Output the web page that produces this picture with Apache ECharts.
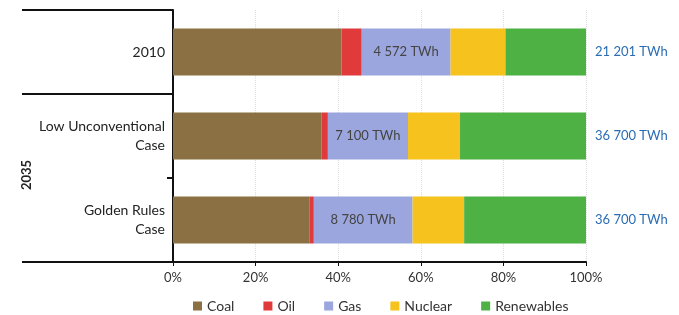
<!DOCTYPE html>
<html><head><meta charset="utf-8">
<script src="https://cdn.jsdelivr.net/npm/echarts@6/dist/echarts.min.js"></script>
<style>html,body{margin:0;padding:0;background:#fff}#c{width:679px;height:315px}</style>
</head><body><div id="c"></div>
<script>
var categories = ['2010', 'Low Unconventional\nCase', 'Golden Rules\nCase'];
var coal = [40.8, 36.0, 33.0];
var oil = [4.9, 1.5, 1.1];
var gas = [21.5, 19.4, 23.9];
var nuclear = [13.3, 12.6, 12.5];
var renewables = [19.5, 30.5, 29.5];
var gasLabels = ['4 572 TWh', '7 100 TWh', '8 780 TWh'];
var totalLabels = ['21 201 TWh', '36 700 TWh', '36 700 TWh'];
var xTicks = [0, 20, 40, 60, 80, 100];

var FONT = 'Lato';
var chart = echarts.init(document.getElementById('c'));
function s(name, data, color, label) {
  return { name: name, type: 'bar', stack: 'all', data: data, barWidth: 47,
    itemStyle: { color: color }, label: label || { show: false } };
}
chart.setOption({
  animation: false,
  textStyle: { fontFamily: FONT },
  grid: { left: 173, right: 93, top: 10, bottom: 53 },
  legend: {
    top: 294, left: 188, itemWidth: 9, itemHeight: 9, itemGap: 29, icon: 'rect',
    textStyle: { fontFamily: FONT, fontSize: 14, color: '#333' },
    data: ['Coal', 'Oil', 'Gas', 'Nuclear', 'Renewables']
  },
  xAxis: {
    type: 'value', min: xTicks[0], max: xTicks[xTicks.length - 1], interval: 20,
    axisLine: { show: true, lineStyle: { color: '#111', width: 2 } },
    axisTick: { show: true, length: 4, lineStyle: { color: '#111' } },
    axisLabel: { formatter: '{value}%', color: '#333', fontSize: 13, margin: 9, fontFamily: FONT },
    splitLine: { show: true, lineStyle: { color: '#ddd', type: 'dotted' } }
  },
  yAxis: {
    type: 'category', inverse: true, data: categories,
    axisLine: { show: true, lineStyle: { color: '#111', width: 2 } },
    axisTick: { show: false },
    axisLabel: { color: '#222', fontSize: 14, lineHeight: 19, margin: 8, fontFamily: FONT }
  },
  series: [
    s('Coal', coal, '#8a7043'),
    s('Oil', oil, '#e03a3a'),
    s('Gas', gas, '#9ba6de', { show: true, position: 'inside', color: '#444', fontSize: 13, fontFamily: FONT,
      formatter: function (p) { return gasLabels[p.dataIndex]; } }),
    s('Nuclear', nuclear, '#f5c21e'),
    s('Renewables', renewables, '#4db243', { show: true, position: 'right', distance: 9, color: '#2a6db3', fontSize: 13, fontFamily: FONT,
      formatter: function (p) { return totalLabels[p.dataIndex]; } })
  ],
  graphic: [
    { type: 'line', shape: { x1: 22, y1: 10, x2: 173, y2: 10 }, style: { stroke: '#111', lineWidth: 2 } },
    { type: 'line', shape: { x1: 22, y1: 94, x2: 173, y2: 94 }, style: { stroke: '#111', lineWidth: 2 } },
    { type: 'line', shape: { x1: 22, y1: 262, x2: 173, y2: 262 }, style: { stroke: '#111', lineWidth: 2 } },
    { type: 'line', shape: { x1: 167, y1: 178, x2: 173, y2: 178 }, style: { stroke: '#111', lineWidth: 2 } },
    { type: 'text', x: 27, y: 175, rotation: Math.PI / 2,
      style: { text: '2035', fill: '#222', font: 'bold 13px ' + FONT, textAlign: 'center', textVerticalAlign: 'middle' } }
  ]
});
</script></body></html>
